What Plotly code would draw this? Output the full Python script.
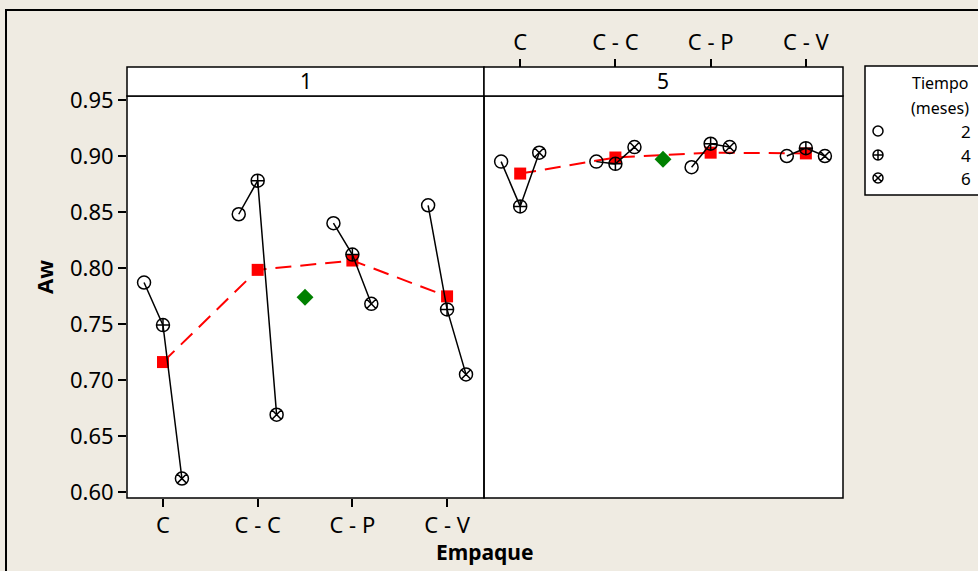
import numpy as np
import plotly.graph_objects as go

# ---- data -------------------------------------------------------------
empaque = ["C", "C - C", "C - P", "C - V"]
tiempo = [2, 4, 6]
paneles = ["1", "5"]
# Aw per empaque (rows) and tiempo in months (columns: 2, 4, 6)
aw_panel_1 = [
    [0.787, 0.749, 0.612],
    [0.848, 0.878, 0.669],
    [0.840, 0.812, 0.768],
    [0.856, 0.763, 0.705],
]
aw_panel_5 = [
    [0.895, 0.855, 0.903],
    [0.895, 0.893, 0.908],
    [0.890, 0.911, 0.908],
    [0.900, 0.907, 0.900],
]
y_ticks = [0.60, 0.65, 0.70, 0.75, 0.80, 0.85, 0.90, 0.95]

# ---- styling ----------------------------------------------------------
BG = "#EFEBE2"
FONT = "Noto Sans, Liberation Sans, sans-serif"
symbols = {2: "circle-open", 4: "circle-cross-open", 6: "circle-x-open"}
offsets = {2: -0.2, 4: 0.0, 6: 0.2}

W, H = 978, 571
L, T, B = 127, 67, 73
plot_w = W - L
plot_h = H - T - B
px_x = lambda p: (p - L) / plot_w          # pixel -> paper x
px_y = lambda p: (H - B - p) / plot_h      # pixel -> paper y

strip_bottom = px_y(96)
dom1 = [0, px_x(484)]
dom2 = [px_x(484), px_x(843)]
x_range = [0.62, 4.39]
y_range = [0.5946, 0.9536]

fig = go.Figure()

cat_pos = np.arange(1, len(empaque) + 1)
for k, (data, xa, ya) in enumerate([(aw_panel_1, "x", "y"), (aw_panel_5, "x2", "y2")]):
    arr = np.array(data)
    means = arr.mean(axis=1)
    # mean connect line
    fig.add_trace(go.Scatter(
        x=cat_pos, y=means, xaxis=xa, yaxis=ya, mode="lines+markers",
        line=dict(color="#FF0000", width=2, dash="16px,9px"),
        marker=dict(symbol="square", size=12, color="#FF0000"),
        showlegend=False, hoverinfo="skip"))
    # overall panel mean
    fig.add_trace(go.Scatter(
        x=[cat_pos.mean()], y=[arr.mean()], xaxis=xa, yaxis=ya, mode="markers",
        marker=dict(symbol="diamond", size=13, color="#008000"),
        showlegend=False, hoverinfo="skip"))
    # individual values per empaque, joined across tiempo
    for i in range(len(empaque)):
        fig.add_trace(go.Scatter(
            x=[cat_pos[i] + offsets[t] for t in tiempo], y=arr[i],
            xaxis=xa, yaxis=ya, mode="lines+markers",
            line=dict(color="black", width=1.5),
            marker=dict(symbol=[symbols[t] for t in tiempo], size=13,
                        color="black", line=dict(width=1.5, color="black")),
            showlegend=False, hoverinfo="skip"))

# legend keys
leg_y = [131, 155, 178]
fig.add_trace(go.Scatter(
    x=[878] * 3, y=leg_y, xaxis="x3", yaxis="y3", mode="markers",
    marker=dict(symbol=[symbols[t] for t in tiempo], size=10, color="black",
                line=dict(width=1.5, color="black")),
    showlegend=False, hoverinfo="skip"))

tick_font = dict(family=FONT, size=22, color="black")
fig.update_layout(
    width=W, height=H,
    margin=dict(l=L, r=0, t=T, b=B, pad=0),
    paper_bgcolor=BG, plot_bgcolor="white",
    font=dict(family=FONT, color="black"),
    xaxis=dict(domain=dom1, range=x_range, tickvals=list(cat_pos), ticktext=empaque,
               ticks="outside", ticklen=8, tickwidth=1.5, tickcolor="black",
               tickfont=tick_font, showgrid=False, zeroline=False, showline=False,
               anchor="y"),
    yaxis=dict(domain=[0, strip_bottom], range=y_range, tickvals=y_ticks,
               tickformat=".2f", ticks="outside", ticklen=8, tickwidth=1.5,
               tickcolor="black", tickfont=tick_font, showgrid=False,
               zeroline=False, showline=False, anchor="x"),
    xaxis2=dict(domain=dom2, range=x_range, tickvals=list(cat_pos), ticktext=empaque,
                side="top", anchor="free", position=1,
                ticks="outside", ticklen=8, tickwidth=1.5, tickcolor="black",
                tickfont=tick_font, showgrid=False, zeroline=False, showline=False),
    yaxis2=dict(domain=[0, strip_bottom], range=y_range, anchor="x2",
                showticklabels=False, ticks="", showgrid=False, zeroline=False,
                showline=False),
    xaxis3=dict(domain=[px_x(866), 1], range=[866, 978], visible=False, anchor="y3"),
    yaxis3=dict(domain=[px_y(195), 1], range=[195, 67], visible=False, anchor="x3"),
)

shapes = []
# outer frame
shapes.append(dict(type="rect", xref="paper", yref="paper",
                   x0=px_x(6), x1=px_x(1000), y0=px_y(600), y1=px_y(10),
                   line=dict(color="black", width=2), fillcolor="rgba(0,0,0,0)",
                   layer="below"))
for dom in (dom1, dom2):
    # panel
    shapes.append(dict(type="rect", xref="paper", yref="paper",
                       x0=dom[0], x1=dom[1], y0=0, y1=strip_bottom,
                       line=dict(color="black", width=1.5)))
    # strip
    shapes.append(dict(type="rect", xref="paper", yref="paper",
                       x0=dom[0], x1=dom[1], y0=strip_bottom, y1=1,
                       line=dict(color="black", width=1.5), fillcolor="white"))
# legend box: white fill underneath, outline on top
shapes.append(dict(type="rect", xref="paper", yref="paper",
                   x0=px_x(865), x1=px_x(1000), y0=px_y(195), y1=px_y(66),
                   line=dict(width=0), fillcolor="white", layer="below"))
shapes.append(dict(type="rect", xref="paper", yref="paper",
                   x0=px_x(865), x1=px_x(1000), y0=px_y(195), y1=px_y(66),
                   line=dict(color="black", width=1.5), fillcolor="rgba(0,0,0,0)",
                   layer="above"))
fig.update_layout(shapes=shapes)

ann = []
for dom, lab in zip((dom1, dom2), paneles):
    ann.append(dict(text=lab, xref="paper", yref="paper",
                    x=(dom[0] + dom[1]) / 2, y=(strip_bottom + 1) / 2,
                    showarrow=False, font=dict(family=FONT, size=21),
                    xanchor="center", yanchor="middle"))
ann.append(dict(text="<b>Empaque</b>", xref="paper", yref="paper",
                x=px_x(485), y=px_y(552), showarrow=False,
                font=dict(family=FONT, size=21), xanchor="center", yanchor="middle"))
ann.append(dict(text="<b>Aw</b>", xref="paper", yref="paper",
                x=px_x(44), y=px_y(277), showarrow=False, textangle=-90,
                font=dict(family=FONT, size=22), xanchor="center", yanchor="middle"))
ann.append(dict(text="Tiempo", xref="x3", yref="y3", x=971, y=83, showarrow=False,
                font=dict(family=FONT, size=16), xanchor="right", yanchor="middle"))
ann.append(dict(text="(meses)", xref="x3", yref="y3", x=971, y=108, showarrow=False,
                font=dict(family=FONT, size=16), xanchor="right", yanchor="middle"))
for t, yy in zip(tiempo, leg_y):
    ann.append(dict(text=str(t), xref="x3", yref="y3", x=973, y=yy, showarrow=False,
                    font=dict(family=FONT, size=17), xanchor="right", yanchor="middle"))
fig.update_layout(annotations=ann)

fig.write_html("out.html")
